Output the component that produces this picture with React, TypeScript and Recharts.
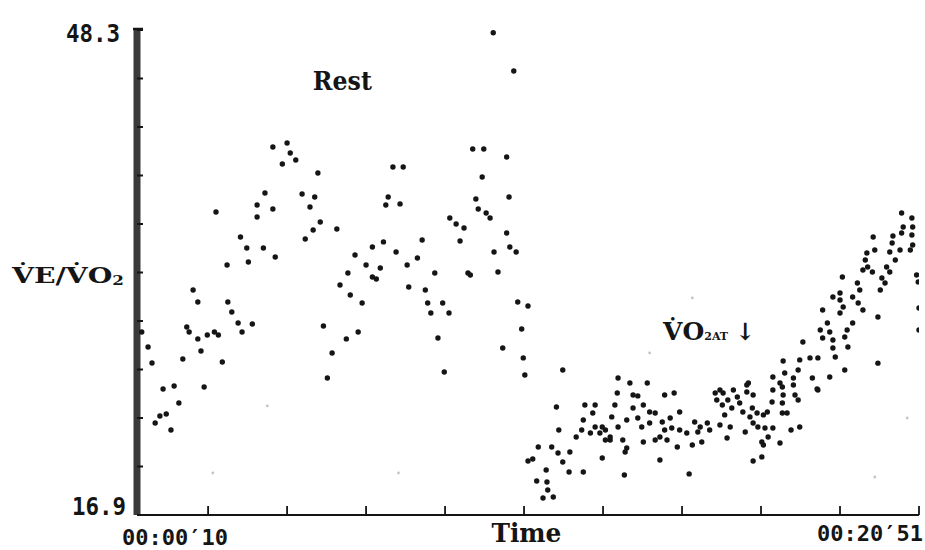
import React from "react";
import { ScatterChart, Scatter, XAxis, YAxis, ReferenceDot } from "recharts";

// Breath-by-breath ventilatory equivalent for O2, [time tick, VE/VO2]
const restPhase: [number, number][] = [
  [0.16, 28.75], [0.24, 27.78], [0.29, 26.74], [0.33, 22.86], [0.39, 23.31], [0.43, 25.06],
  [0.47, 23.44], [0.53, 22.4], [0.57, 25.25], [0.63, 24.15], [0.68, 27.0], [0.73, 29.07],
  [0.76, 28.75], [0.81, 31.47], [0.87, 30.69], [0.87, 28.3], [0.91, 27.52], [0.95, 25.19],
  [0.99, 28.55], [1.08, 28.75], [1.1, 36.52], [1.13, 28.55], [1.18, 26.81], [1.24, 33.09],
  [1.25, 30.69], [1.3, 30.04], [1.38, 29.33], [1.41, 34.9], [1.43, 28.75], [1.49, 34.19],
  [1.51, 33.28], [1.56, 29.27], [1.62, 36.97], [1.62, 36.19], [1.7, 34.19], [1.72, 37.75],
  [1.82, 36.71], [1.85, 33.6], [1.82, 40.73], [2.0, 40.98], [1.94, 39.62], [2.04, 40.34],
  [2.11, 39.88], [2.19, 37.68], [2.29, 36.84], [2.35, 37.49], [2.39, 39.04], [2.33, 35.35],
  [2.23, 34.77], [2.42, 35.87], [2.63, 35.42], [2.46, 29.14], [2.51, 25.77], [2.57, 27.39],
  [2.67, 31.79], [2.75, 28.3], [2.77, 32.57], [2.8, 31.14], [2.86, 33.73], [2.9, 28.75],
  [2.95, 30.63], [3.0, 33.09], [3.08, 34.25], [3.08, 32.31], [3.13, 32.18], [3.18, 32.89],
  [3.22, 34.58], [3.25, 36.97], [3.28, 37.49], [3.34, 39.43], [3.47, 39.43], [3.43, 37.04],
  [3.38, 33.93], [3.52, 33.09], [3.65, 33.54], [3.54, 31.66], [3.71, 34.7], [3.75, 31.47],
  [3.78, 30.63], [3.82, 29.98], [3.87, 32.57], [3.91, 28.36], [3.97, 30.63], [4.05, 29.98],
  [3.99, 26.16], [4.06, 36.13], [4.14, 35.74], [4.19, 34.64], [4.24, 35.48], [4.29, 32.57],
  [4.32, 32.44], [4.35, 40.6], [4.49, 40.6], [4.47, 38.78], [4.39, 37.36], [4.42, 36.71],
  [4.52, 36.45], [4.57, 36.13], [4.61, 48.12], [4.87, 45.65], [4.78, 40.08], [4.81, 37.49],
  [4.62, 33.93], [4.67, 32.63], [4.82, 34.25], [4.9, 33.93], [4.78, 35.16], [4.92, 30.69],
  [5.05, 30.43], [4.97, 28.94], [4.73, 27.71], [4.99, 27.07], [5.01, 25.96],
];

const exercisePhase: [number, number][] = [
  [5.49, 26.29], [5.41, 23.89], [5.77, 24.02], [5.9, 24.02], [5.87, 23.5], [6.15, 24.02],
  [6.11, 23.25], [6.19, 25.77], [6.18, 24.8], [5.18, 21.3], [5.05, 20.4], [5.11, 20.53],
  [5.35, 21.3], [5.44, 22.4], [5.43, 20.91], [5.49, 20.33], [5.58, 20.98], [5.66, 21.95],
  [5.75, 23.05], [5.73, 22.4], [5.84, 22.21], [5.9, 22.6], [5.96, 22.21], [6.03, 22.4],
  [6.09, 21.76], [6.19, 22.6], [5.99, 20.59], [5.57, 19.68], [5.75, 19.68], [5.28, 19.81],
  [5.16, 19.1], [5.29, 19.04], [5.3, 18.52], [5.24, 18.0], [5.37, 18.07],
  [6.34, 25.45], [6.56, 25.45], [6.38, 24.67], [6.44, 24.61], [6.78, 24.67], [6.9, 24.8],
  [6.38, 23.83], [6.51, 24.02], [6.59, 23.57], [6.66, 23.5], [6.3, 23.05], [6.44, 23.18],
  [6.49, 22.6], [6.59, 22.86], [6.75, 22.92], [6.85, 23.18], [6.97, 23.57], [6.97, 22.4],
  [7.06, 22.21], [6.78, 22.4], [6.72, 21.95], [6.66, 21.76], [6.87, 22.53], [5.99, 22.6],
  [6.09, 21.95], [6.03, 21.76], [6.25, 21.76], [6.3, 21.24], [6.51, 21.63], [6.81, 21.76],
  [6.94, 21.3], [6.28, 20.98], [6.72, 20.46], [6.27, 19.49], [7.09, 19.56],
  [7.23, 22.6], [7.16, 22.92], [7.2, 22.27], [7.32, 22.86], [7.35, 22.4], [7.25, 21.63],
  [7.13, 21.43], [7.42, 24.8], [7.44, 24.35], [7.52, 24.8], [7.51, 24.02], [7.58, 24.35],
  [7.65, 24.99], [7.7, 24.54], [7.63, 23.83], [7.73, 24.15], [7.82, 25.32], [7.77, 23.57],
  [7.89, 23.83], [7.86, 23.25], [7.95, 23.5], [8.03, 23.38], [8.08, 23.57], [7.54, 23.38],
  [7.48, 22.73], [7.61, 22.6], [7.57, 21.89], [7.8, 22.27], [7.9, 22.86], [7.96, 22.6],
  [8.05, 22.53], [8.15, 22.53], [8.27, 23.5], [8.33, 23.5], [8.27, 24.15], [8.14, 24.22],
  [8.15, 24.99], [8.27, 25.19], [8.28, 24.67], [8.43, 24.67], [8.47, 24.35], [8.41, 25.32],
  [8.72, 24.99], [8.38, 22.4], [8.49, 22.6], [8.24, 21.56], [8.01, 21.63], [8.03, 21.43],
  [7.9, 20.4], [8.01, 20.66], [8.09, 21.95], [7.48, 24.99], [7.84, 25.45], [7.82, 24.86],
  [7.9, 24.67],
  [8.15, 25.83], [8.24, 25.45], [8.3, 26.09], [8.41, 25.77], [8.47, 26.29], [8.65, 25.77],
  [8.28, 26.87], [8.49, 26.94], [8.62, 27.07], [8.72, 27.07], [8.94, 27.13], [8.71, 25.06],
  [8.87, 25.83], [9.06, 26.29], [8.53, 28.1], [8.78, 28.36], [8.91, 28.23], [8.91, 27.71],
  [9.06, 28.42], [9.1, 27.78], [8.75, 28.88], [8.87, 28.75], [8.84, 29.33], [9.09, 28.88],
  [9.16, 29.33], [8.78, 30.17], [9.0, 29.98], [8.91, 31.01], [9.0, 31.27], [9.0, 30.82],
  [9.04, 30.37], [9.03, 32.31], [9.22, 31.92], [9.25, 31.47], [9.16, 31.01], [9.23, 30.63],
  [9.29, 30.17], [9.29, 32.76], [9.34, 33.86], [9.32, 33.41], [9.35, 32.96], [9.41, 32.63],
  [9.42, 34.9], [9.44, 34.06], [9.48, 29.72], [9.48, 26.73], [9.51, 31.47], [9.53, 32.24],
  [9.57, 31.92], [9.59, 32.96], [9.63, 32.63], [9.63, 33.93], [9.7, 33.41], [9.66, 34.51],
  [9.67, 34.96], [9.76, 34.06], [9.78, 35.16], [9.8, 35.55], [9.78, 36.45], [9.91, 36.13],
  [9.92, 35.55], [9.91, 35.03], [9.92, 34.38], [9.89, 34.06], [9.97, 32.44], [9.99, 31.99],
  [10.0, 30.3], [10.0, 28.88],
];

// Faint specks printed on the plot field
const strayMarks: [number, number][] = [
  [1.06, 19.62], [1.75, 23.96], [3.41, 19.62], [6.59, 27.39], [7.13, 30.95], [9.85, 23.18], [9.44, 19.36],
];

const yTickValues = [16.9, 20.04, 23.18, 26.32, 29.46, 32.6, 35.74, 38.88, 42.02, 45.16, 48.3];
const yTickLabels = ["16.9", "", "", "", "", "", "", "", "", "", "48.3"];

const xTickValues = [1, 2, 3, 4, 5, 6, 7, 8, 9, 10];
const xCaptions = [
  { at: 0.58, text: "00:00\u203210", kind: "clock" },
  { at: 5.03, text: "Time", kind: "title" },
  { at: 10, text: "00:20\u203251", kind: "clock" },
];

const restNote = { t: 2.7, v: 44.42, text: "Rest" };
const thresholdNote = { t: 6.76, v: 28.23, main: "V\u0307O", sub: "2AT", arrow: "\u2193" };

const INK = "#151515";
const MONO = "'DejaVu Sans Mono', 'Liberation Mono', monospace";
const SERIF = "'DejaVu Serif', 'Liberation Serif', serif";

const toPoints = (rows: [number, number][]) => rows.map(([t, v]) => ({ t, v }));

const Dot = (p: any) => <circle cx={p.cx} cy={p.cy} r={2.7} fill={INK} />;
const FaintDot = (p: any) => <circle cx={p.cx} cy={p.cy} r={1.4} fill="#c4c4c4" />;

const XTick = (props: any) => {
  const { x, y, payload } = props;
  const v = payload.value;
  const cap = xCaptions.find((c) => c.at === v);
  const isMark = xTickValues.includes(v);
  return (
    <g>
      {isMark && <line x1={x} x2={x} y1={y} y2={y - 9} stroke={INK} strokeWidth={1.8} />}
      {cap && cap.kind === "clock" && (
        <text
          x={v === 10 ? x + 4 : x}
          y={v === 10 ? y + 26 : y + 30}
          textAnchor={v === 10 ? "end" : "middle"}
          fontFamily={MONO}
          fontWeight="bold"
          fontSize={22}
          fill={INK}
          textLength={106}
          lengthAdjust="spacingAndGlyphs"
        >
          {cap.text}
        </text>
      )}
      {cap && cap.kind === "title" && (
        <text
          x={x}
          y={y + 27}
          textAnchor="middle"
          fontFamily={SERIF}
          fontWeight="bold"
          fontSize={26}
          fill={INK}
          textLength={70}
          lengthAdjust="spacingAndGlyphs"
        >
          {cap.text}
        </text>
      )}
    </g>
  );
};

const YTick = (props: any) => {
  const { x, y, payload } = props;
  const i = yTickValues.indexOf(payload.value);
  const label = yTickLabels[i];
  const isTop = i === yTickValues.length - 1;
  return (
    <g>
      <line x1={x} x2={x + 6} y1={y} y2={y} stroke={INK} strokeWidth={2} />
      {isTop && <line x1={x - 4} x2={x + 6} y1={y - 1} y2={y - 1} stroke={INK} strokeWidth={2.5} />}
      {label && (
        <text
          x={isTop ? x - 17 : x - 11}
          y={isTop ? y + 12 : y}
          textAnchor="end"
          fontFamily={MONO}
          fontWeight="bold"
          fontSize={24}
          fill={INK}
          textLength={54}
          lengthAdjust="spacingAndGlyphs"
        >
          {label}
        </text>
      )}
    </g>
  );
};

const YTitle = (props: any) => {
  const vb = props.viewBox || { x: 0, y: 30, width: 137, height: 485 };
  return (
    <text
      x={vb.x + 12}
      y={vb.y + vb.height / 2 + 10}
      fontFamily={SERIF}
      fontWeight="bold"
      fontSize={22}
      fill={INK}
      textLength={112}
      lengthAdjust="spacingAndGlyphs"
    >
      V{"\u0307"}E/V{"\u0307"}O
      <tspan fontSize={13} dy={2}>2</tspan>
    </text>
  );
};

const RestText = (p: any) => (
  <text x={p.cx} y={p.cy} textAnchor="middle" fontFamily={SERIF} fontWeight="bold" fontSize={26} fill={INK}
    textLength={59} lengthAdjust="spacingAndGlyphs">
    {restNote.text}
  </text>
);

const ThresholdText = (p: any) => (
  <text x={p.cx} y={p.cy} fontFamily={SERIF} fontWeight="bold" fontSize={25} fill={INK}>
    {thresholdNote.main}
    <tspan fontSize={11}>{thresholdNote.sub}</tspan>
    <tspan fontSize={24} dx={7}>{thresholdNote.arrow}</tspan>
  </text>
);

export default function App() {
  return (
    <div style={{ position: "absolute", left: 0, top: 0, width: 925, height: 550, background: "#fff" }}>
      <ScatterChart width={925} height={550} margin={{ top: 30, right: 6, bottom: 0, left: 0 }}>
        <XAxis
          type="number"
          dataKey="t"
          domain={[0.1, 10]}
          allowDataOverflow
          ticks={[...xTickValues, 0.58, 5.03]}
          interval={0}
          tick={<XTick />}
          tickLine={false}
          tickSize={0}
          tickMargin={0}
          height={35}
          axisLine={{ stroke: INK, strokeWidth: 2 }}
        />
        <YAxis
          type="number"
          dataKey="v"
          domain={[16.9, 48.3]}
          allowDataOverflow
          ticks={yTickValues}
          interval={0}
          tick={<YTick />}
          tickLine={false}
          tickSize={0}
          tickMargin={0}
          width={137}
          axisLine={{ stroke: "#3a3a3a", strokeWidth: 7 }}
          label={<YTitle />}
        />
        <Scatter data={toPoints(strayMarks)} shape={<FaintDot />} isAnimationActive={false} />
        <Scatter data={toPoints(restPhase)} shape={<Dot />} isAnimationActive={false} />
        <Scatter data={toPoints(exercisePhase)} shape={<Dot />} isAnimationActive={false} />
        <ReferenceDot x={restNote.t} y={restNote.v} r={0} shape={<RestText />} />
        <ReferenceDot x={thresholdNote.t} y={thresholdNote.v} r={0} shape={<ThresholdText />} />
      </ScatterChart>
    </div>
  );
}
